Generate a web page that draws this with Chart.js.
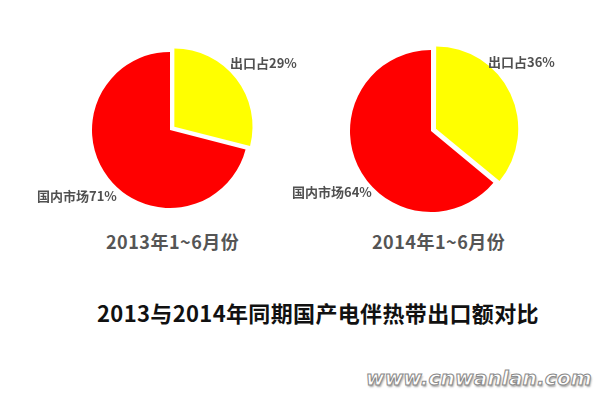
<!DOCTYPE html>
<html>
<head>
<meta charset="utf-8">
<script src="https://cdn.jsdelivr.net/npm/chart.js@4"></script>
<style>
  html,body{margin:0;padding:0;background:#fff;}
  #wrap{position:relative;width:600px;height:400px;overflow:hidden;background:#fff;
        font-family:"Noto Sans CJK SC","Noto Sans",sans-serif;}
  canvas{position:absolute;}
  .lbl{position:absolute;font-size:13px;color:#505050;white-space:nowrap;line-height:1;font-weight:bold;}
  .sub{position:absolute;font-size:18px;font-weight:bold;color:#555;white-space:nowrap;line-height:1;letter-spacing:0.5px;}
  #title{position:absolute;left:97px;top:301px;font-size:22px;font-weight:bold;color:#111;white-space:nowrap;line-height:1;letter-spacing:0.35px;}
  #wm{position:absolute;left:366px;top:368px;font-family:"DejaVu Sans",sans-serif;font-size:20px;font-weight:bold;font-style:italic;
      color:#fff;-webkit-text-stroke:1px #8a8a8a;text-shadow:1px 2px 2px rgba(0,0,0,0.35);white-space:nowrap;line-height:1;letter-spacing:0.2px;}
</style>
</head>
<body>
<div id="wrap">
  <canvas id="c1" width="180" height="180" style="left:80px;top:40px;"></canvas>
  <canvas id="c2" width="180" height="180" style="left:341px;top:41px;"></canvas>
  <div class="lbl" id="l1a" style="left:230px;top:56px;"></div>
  <div class="lbl" id="l1b" style="left:37px;top:189px;"></div>
  <div class="lbl" id="l2a" style="left:488px;top:55px;"></div>
  <div class="lbl" id="l2b" style="left:292px;top:185px;"></div>
  <div class="sub" id="s1" style="left:106px;top:232px;"></div>
  <div class="sub" id="s2" style="left:372px;top:232px;"></div>
  <div id="title"></div>
  <div id="wm">www.cnwanlan.com</div>
</div>
<script>
const categories = ['出口占', '国内市场'];
const periods = ['2013年1~6月份', '2014年1~6月份'];
const share2013 = [29, 71];
const share2014 = [36, 64];
const chartTitle = '2013与2014年同期国产电伴热带出口额对比';
const colors = ['#FFFF00', '#FF0000'];

function makePie(id, values, radius) {
  new Chart(document.getElementById(id), {
    type: 'pie',
    data: {
      labels: categories,
      datasets: [{
        data: values,
        backgroundColor: colors,
        borderWidth: 0,
        offset: [22, 0]
      }]
    },
    options: {
      responsive: false,
      animation: false,
      radius: radius,
      layout: { padding: 0 },
      plugins: { legend: { display: false }, tooltip: { enabled: false }, title: { display: false } }
    }
  });
}
makePie('c1', share2013, 78);
makePie('c2', share2014, 81);

document.getElementById('l1a').textContent = categories[0] + share2013[0] + '%';
document.getElementById('l1b').textContent = categories[1] + share2013[1] + '%';
document.getElementById('l2a').textContent = categories[0] + share2014[0] + '%';
document.getElementById('l2b').textContent = categories[1] + share2014[1] + '%';
document.getElementById('s1').textContent = periods[0];
document.getElementById('s2').textContent = periods[1];
document.getElementById('title').textContent = chartTitle;
</script>
</body>
</html>
